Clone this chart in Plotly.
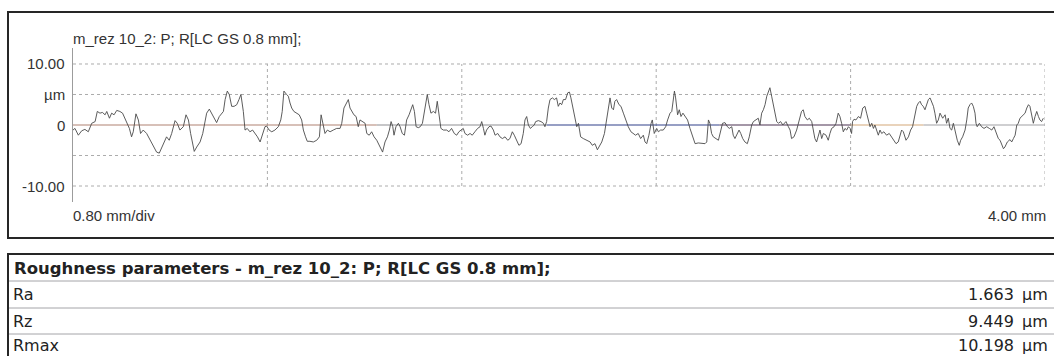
import plotly.graph_objects as go

# Roughness profile R (LC GS 0.8 mm), evaluation length 4.00 mm
profile_x_mm = [
    0.000, 0.008, 0.022, 0.036, 0.049, 0.063, 0.077, 0.091, 0.100, 0.111,
    0.121, 0.132, 0.139, 0.150, 0.159, 0.169, 0.180, 0.193, 0.204, 0.214,
    0.224, 0.232, 0.241, 0.248, 0.259, 0.269, 0.278, 0.289, 0.303, 0.317,
    0.331, 0.344, 0.355, 0.365, 0.374, 0.385, 0.396, 0.406, 0.420, 0.429,
    0.440, 0.454, 0.465, 0.475, 0.484, 0.492, 0.499, 0.509, 0.523, 0.534,
    0.543, 0.550, 0.561, 0.571, 0.580, 0.591, 0.602, 0.612, 0.619, 0.626,
    0.635, 0.643, 0.653, 0.663, 0.674, 0.683, 0.691, 0.701, 0.708, 0.717,
    0.728, 0.739, 0.749, 0.759, 0.770, 0.781, 0.790, 0.797, 0.807, 0.818,
    0.831, 0.845, 0.855, 0.861, 0.868, 0.879, 0.886, 0.893, 0.900, 0.909,
    0.920, 0.931, 0.941, 0.948, 0.957, 0.964, 0.975, 0.989, 1.003, 1.014,
    1.021, 1.030, 1.037, 1.047, 1.058, 1.071, 1.085, 1.099, 1.106, 1.115,
    1.123, 1.133, 1.140, 1.147, 1.156, 1.165, 1.174, 1.181, 1.192, 1.202,
    1.209, 1.219, 1.229, 1.239, 1.250, 1.263, 1.274, 1.284, 1.294, 1.302,
    1.309, 1.316, 1.321, 1.329, 1.339,
    1.346, 1.355, 1.364, 1.373, 1.383, 1.391, 1.398, 1.405, 1.412, 1.421,
    1.429, 1.438, 1.446, 1.453, 1.458, 1.465, 1.473, 1.483, 1.492, 1.499,
    1.506, 1.514, 1.524, 1.538, 1.547, 1.558, 1.569, 1.579, 1.588, 1.599,
    1.606, 1.613, 1.624, 1.634, 1.643, 1.654, 1.665, 1.675, 1.682, 1.689,
    1.695, 1.702, 1.712, 1.720, 1.730, 1.737, 1.748, 1.757, 1.767, 1.778,
    1.789, 1.798, 1.808, 1.816, 1.826, 1.835, 1.844, 1.853, 1.860, 1.867,
    1.874, 1.882, 1.890, 1.898, 1.904, 1.915, 1.926, 1.936, 1.942, 1.949,
    1.956, 1.963, 1.973, 1.981, 1.990, 1.997, 2.004, 2.011, 2.018, 2.027,
    2.036, 2.043, 2.049, 2.059, 2.066, 2.073, 2.080, 2.089, 2.100, 2.114,
    2.128, 2.137, 2.148, 2.158, 2.165, 2.176, 2.187, 2.193, 2.203, 2.210,
    2.217, 2.224, 2.230, 2.237, 2.247, 2.255, 2.265, 2.274, 2.285, 2.296,
    2.306, 2.315, 2.326, 2.336, 2.347, 2.354, 2.361, 2.370, 2.379, 2.384,
    2.392, 2.402, 2.409, 2.418, 2.429, 2.439, 2.447, 2.457, 2.464, 2.471,
    2.475, 2.480, 2.488, 2.495, 2.502, 2.510, 2.519, 2.529, 2.539, 2.549,
    2.560, 2.573, 2.587, 2.601, 2.608, 2.615, 2.621, 2.628, 2.635, 2.645,
    2.656,
    2.673, 2.683, 2.693, 2.701, 2.711, 2.717, 2.724, 2.734, 2.741, 2.748,
    2.756, 2.765, 2.775, 2.783, 2.793, 2.800, 2.811, 2.820, 2.827, 2.834,
    2.841, 2.848, 2.855, 2.862, 2.868, 2.875, 2.882, 2.889, 2.896, 2.903,
    2.912, 2.921, 2.926, 2.934, 2.944, 2.951, 2.957, 2.967, 2.978, 2.989,
    2.998, 3.005, 3.012, 3.022, 3.030, 3.040, 3.047, 3.053, 3.060, 3.067,
    3.074, 3.081, 3.088, 3.099, 3.108, 3.115, 3.122, 3.132, 3.140, 3.149,
    3.156, 3.163, 3.170, 3.177, 3.184, 3.191, 3.198, 3.204, 3.208, 3.214,
    3.222, 3.232, 3.241, 3.250, 3.259, 3.266, 3.273, 3.280, 3.287, 3.294,
    3.300, 3.307, 3.314, 3.321, 3.328, 3.337, 3.348, 3.359, 3.369, 3.376,
    3.387, 3.396, 3.403, 3.410, 3.417, 3.428, 3.438, 3.447, 3.455, 3.465,
    3.472, 3.479, 3.486, 3.492, 3.499, 3.506, 3.513, 3.520, 3.527, 3.534,
    3.541, 3.547, 3.554, 3.561, 3.568, 3.579, 3.589, 3.595, 3.602, 3.609,
    3.616, 3.623, 3.630, 3.639, 3.647, 3.653, 3.661, 3.671, 3.678, 3.684,
    3.691, 3.698, 3.705, 3.712, 3.716, 3.721, 3.730, 3.739, 3.749, 3.760,
    3.771, 3.781, 3.790, 3.798, 3.808, 3.815, 3.822, 3.829, 3.835, 3.845,
    3.856, 3.863, 3.870, 3.877, 3.884, 3.890, 3.897, 3.904, 3.911, 3.918,
    3.925, 3.932, 3.938, 3.945, 3.952, 3.959, 3.966, 3.973, 3.979, 3.986,
    3.993,
]

profile_um = [
    -0.83, -0.56, -1.67, -0.94, -0.72, -1.11, 0.28, 0.56, 2.22, 1.94,
    2.06, 1.67, 2.22, 1.11, 1.94, 1.67, 2.39, 2.22, 1.94, 1.11,
    0.28, -0.56, -1.94, -1.11, 1.83, 0.83, -1.39, -0.83, -1.39, -2.50,
    -3.61, -4.44, -4.61, -3.61, -2.78, -1.94, -2.50, -1.39, 0.72, 0.28,
    -0.83, -0.28, 1.67, 0.83, -1.39, -3.06, -4.33, -3.61, -2.78, -1.39,
    0.28, 1.94, 2.61, 1.94, 1.11, 0.39, 1.39, 1.94, 2.22, 4.17,
    5.56, 5.00, 3.06, 3.06, 3.33, 4.17, 5.00, 2.22, -0.83, -0.56,
    -1.11, -0.83, -1.39, -1.94, -2.78, -1.39, -0.28, -0.17, -0.83, -1.11,
    -0.83, -0.28, 0.83, 2.22, 5.56, 5.00, 4.72, 3.61, 2.78, 2.22,
    1.94, 1.67, 0.83, -0.83, -1.94, -2.67, -2.67, -2.78, -2.50, -1.94,
    1.67, -0.28, -1.39, -0.83, -1.11, -0.83, -0.56, -0.56, 0.28, 2.78,
    3.33, 4.17, 2.78, 2.22, 1.67, 1.39, -0.28, 0.83, 0.56, 0.28,
    -1.39, -1.67, -1.11, -1.94, -2.50, -3.61, -4.44, -2.78, -1.94, -0.83,
    0.56, -0.28, -1.67, -0.28, 0.28,
    -0.28, -1.39, -1.67, 0.83, 1.67, 2.50, 3.33, 2.22, -0.28, -0.44,
    -0.28, 0.28, 1.94, 3.33, 5.00, 3.33, 1.94, 2.22, 1.94, 3.89,
    1.94, -0.56, -0.83, -0.83, -1.11, -0.56, -1.39, -1.67, -1.11, -0.83,
    -0.56, -1.39, -1.67, -1.39, -1.67, -1.11, -0.56, -0.28, 0.56, -0.56,
    -1.67, -0.83, -0.28, -0.17, -0.83, -1.67, -1.39, -1.94, -2.22, -1.94,
    -2.50, -2.22, -1.11, -1.67, -2.50, -3.33, -3.06, -1.39, 0.83, 1.39,
    0.00, -0.56, -0.28, 0.00, 0.56, 0.72, 0.56, 0.28, -0.28, 0.56,
    2.78, 4.17, 4.44, 4.17, 4.44, 3.06, 3.61, 3.33, 4.17, 4.17,
    5.28, 5.39, 4.44, 2.50, 1.39, -0.28, 0.28, -1.94, -2.22, -2.50,
    -2.78, -3.33, -3.06, -4.06, -3.61, -2.78, -1.39, 0.28, 2.22, 4.44,
    2.78, 2.50, 3.89, 4.17, 3.33, 3.06, 1.94, 0.83, -0.28, -1.11,
    -1.39, -1.67, -1.39, -2.22, -1.67, -2.78, -3.06, -1.67, 0.28, 0.83,
    -1.39, -0.56, -1.11, -0.83, -0.83, -0.28, 0.83, 1.94, 2.22, 3.89,
    5.56, 4.44, 1.67, 2.50, 1.39, 1.94, 1.39, 0.83, -0.56, -1.94,
    -3.06, -2.94, -3.06, -3.06, -2.78, 0.83, 0.28, -1.39, -1.94, -2.22,
    -2.50,
    0.28, 0.39, -0.28, -0.56, -0.28, -1.67, -2.22, -1.39, -0.83, -1.39,
    -2.22, -2.78, -3.06, -1.94, 0.00, 0.56, 0.83, 1.11, 0.00, 1.94,
    2.50, 3.33, 4.72, 5.56, 6.11, 4.72, 3.33, 1.39, 0.56, 0.28,
    0.56, 0.00, 0.28, 0.56, -0.28, -0.83, -2.22, -1.94, -0.83, 0.83,
    2.22, 2.50, 1.39, 0.83, 1.11, 0.56, -0.83, -2.22, -2.78, -1.67,
    -0.83, -2.22, -1.39, -1.67, -2.50, -1.39, -0.56, -0.28, 0.28, 1.94,
    1.39, 0.28, -1.11, -0.56, -0.83, -0.28, -0.56, -1.39, 0.56, 0.94,
    0.83, 1.39, 1.11, 2.78, 3.06, 1.94, 0.83, -0.28, 0.28, -0.56,
    0.00, -0.83, -1.67, -0.83, -1.39, -1.11, -1.67, -1.39, -1.94, -2.50,
    -3.06, -2.78, -1.67, -0.83, -1.11, -2.50, -1.94, -0.83, -0.28, 1.39,
    3.06, 3.61, 3.89, 3.33, 3.06, 2.50, 3.33, 4.17, 4.44, 3.61,
    3.06, 1.94, 0.28, 0.83, 1.94, 1.11, 1.67, 0.28, 1.11, -0.56,
    -0.83, 0.28, -1.11, -2.50, -3.33, -2.50, -1.94, -0.83, 0.83, 2.78,
    3.33, 3.61, 3.06, 1.94, 0.28, -0.28, 0.28, -0.28, -0.56, -0.28,
    -0.56, -0.83, -0.28, -1.11, -2.22, -2.50, -3.06, -3.89, -3.61, -2.78,
    -2.39, -2.78, -2.22, -1.67, 0.00, 0.28, 1.11, 1.39, 1.67, 1.94,
    2.78, 3.33, 3.06, 1.67, 0.28, 1.39, 2.22, 1.39, 0.83, 0.56,
    1.11,
]

x_range_mm = [0.0, 4.0]
y_range_um = [-12.62, 12.62]
grid_x_mm = [0.8, 1.6, 2.4, 3.2, 4.0]
grid_y_um = [10, 5, -5, -10]
y_tick_vals = [10, 5, 0, -10]
y_tick_text = ["10.00", "µm", "0", "-10.00"]

profile_title = "m_rez 10_2: P; R[LC GS 0.8 mm];"
x_scale_label = "0.80 mm/div"
x_length_label = "4.00 mm"

table_title = "Roughness parameters - m_rez 10_2: P; R[LC GS 0.8 mm];"
param_names = ["Ra", "Rz", "Rmax"]
param_values = ["1.663", "9.449", "10.198"]
param_unit = "µm"

# mean line, drawn in the tints the printout gives it
mean_line_segments = [
    (0.00, 1.25, "#b08272"),
    (1.25, 1.95, "#8e8e92"),
    (1.95, 2.66, "#30408a"),
    (2.66, 3.20, "#4a3050"),
    (3.20, 3.50, "#d4a878"),
    (3.50, 4.00, "#a0a0a4"),
]

W, H = 1054, 356


def px_x(p):
    return p / W


def px_y(p):
    return 1 - p / H


LABEL_FONT = dict(family="Liberation Sans, Arial, sans-serif", size=15, color="#333333")
TABLE_FONT = dict(family="DejaVu Sans, sans-serif", size=16, color="#222222")

fig = go.Figure()

fig.add_trace(go.Scatter(
    x=profile_x_mm, y=profile_um, mode="lines",
    line=dict(color="#4a4a4a", width=0.9),
    hoverinfo="skip", showlegend=False,
))

shapes = []
# dotted grid inside the +-10 um band
for gy in grid_y_um:
    shapes.append(dict(type="line", xref="x", yref="y", x0=x_range_mm[0], x1=x_range_mm[1],
                       y0=gy, y1=gy, line=dict(color="#acacac", width=1, dash="dot"), layer="below"))
for gx in grid_x_mm:
    shapes.append(dict(type="line", xref="x", yref="y", x0=gx, x1=gx,
                       y0=grid_y_um[-1], y1=grid_y_um[0],
                       line=dict(color="#acacac", width=1, dash="dot"), layer="below"))
for x0, x1, col in mean_line_segments:
    shapes.append(dict(type="line", xref="x", yref="y", x0=x0, x1=x1, y0=0, y1=0,
                       line=dict(color=col, width=1.2), layer="below"))

# frame around the profile panel
shapes.append(dict(type="rect", xref="paper", yref="paper",
                   x0=px_x(8), x1=px_x(W + 10), y0=px_y(238), y1=px_y(12),
                   line=dict(color="#262626", width=2)))
# parameter table: outer frame and row rules
shapes.append(dict(type="rect", xref="paper", yref="paper",
                   x0=px_x(8), x1=px_x(W + 10), y0=px_y(H + 10), y1=px_y(254),
                   line=dict(color="#262626", width=2)))
row_edges_px = [281, 308, 334]
for ry in row_edges_px:
    shapes.append(dict(type="line", xref="paper", yref="paper",
                       x0=px_x(9), x1=px_x(W + 10), y0=px_y(ry), y1=px_y(ry),
                       line=dict(color="#a4a4a8", width=1)))

annotations = []
for v, t in zip(y_tick_vals, y_tick_text):
    annotations.append(dict(x=px_x(67), xref="paper", y=v, yref="y", text=t,
                            xanchor="right", yanchor="middle", showarrow=False, font=LABEL_FONT))
annotations.append(dict(x=px_x(71), xref="paper", y=px_y(38), yref="paper", text=profile_title,
                        xanchor="left", yanchor="middle", showarrow=False, font=LABEL_FONT))
annotations.append(dict(x=px_x(71), xref="paper", y=px_y(215), yref="paper", text=x_scale_label,
                        xanchor="left", yanchor="middle", showarrow=False, font=LABEL_FONT))
annotations.append(dict(x=px_x(1048), xref="paper", y=px_y(215), yref="paper", text=x_length_label,
                        xanchor="right", yanchor="middle", showarrow=False, font=LABEL_FONT))

annotations.append(dict(x=px_x(12), xref="paper", y=px_y(268), yref="paper",
                        text="<b>" + table_title + "</b>",
                        xanchor="left", yanchor="middle", showarrow=False,
                        font=dict(TABLE_FONT, size=16.5)))
row_centers_px = [294, 321, 345]
for name, val, cy in zip(param_names, param_values, row_centers_px):
    annotations.append(dict(x=px_x(12), xref="paper", y=px_y(cy), yref="paper", text=name,
                            xanchor="left", yanchor="middle", showarrow=False, font=TABLE_FONT,
                            borderpad=0))
    annotations.append(dict(x=px_x(1015), xref="paper", y=px_y(cy), yref="paper", text=val,
                            xanchor="right", yanchor="middle", showarrow=False, font=TABLE_FONT,
                            borderpad=0))
    annotations.append(dict(x=px_x(1021), xref="paper", y=px_y(cy), yref="paper", text=param_unit,
                            xanchor="left", yanchor="middle", showarrow=False, font=TABLE_FONT,
                            borderpad=0))

fig.update_layout(
    width=W, height=H,
    margin=dict(l=0, r=0, t=0, b=0),
    paper_bgcolor="white", plot_bgcolor="white",
    shapes=shapes, annotations=annotations,
    xaxis=dict(domain=[px_x(73), px_x(1045)], range=x_range_mm, visible=False, fixedrange=True),
    yaxis=dict(domain=[px_y(202), px_y(48)], range=y_range_um,
               showline=True, linecolor="#9c9c9c", linewidth=1,
               showgrid=False, zeroline=False, showticklabels=False, ticks="",
               fixedrange=True),
    showlegend=False,
)

fig.write_html("out.html")
